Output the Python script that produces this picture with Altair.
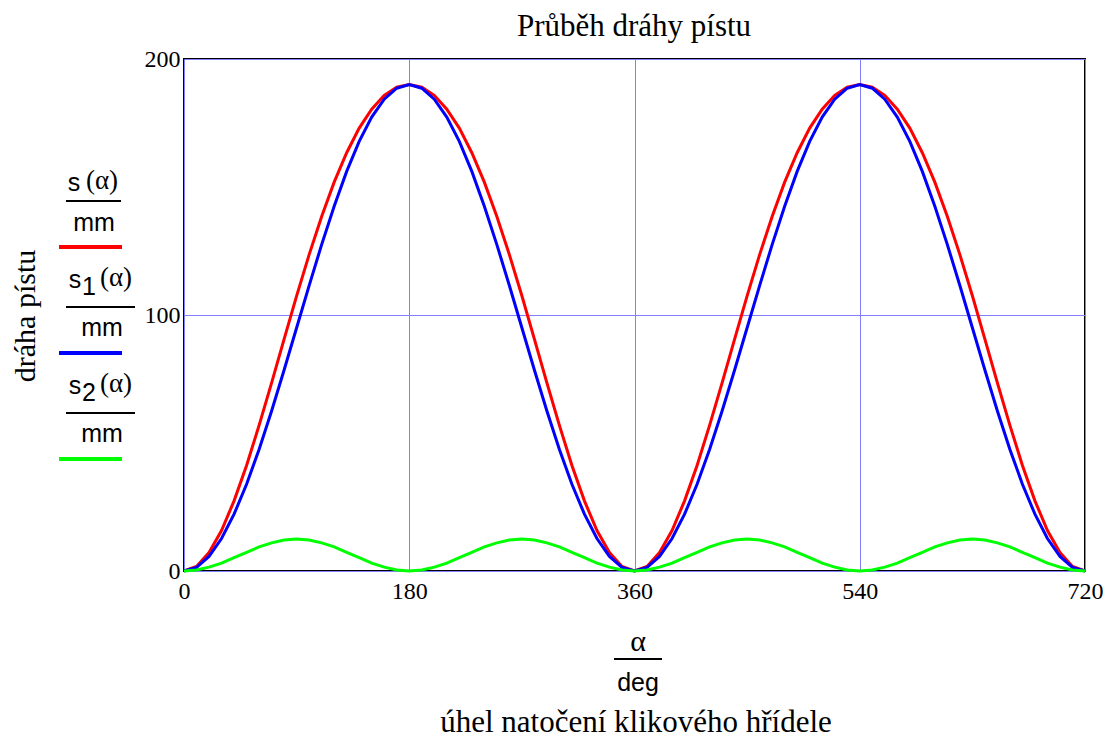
import altair as alt
import pandas as pd

# crank angle in degrees
alpha_deg = list(range(0, 721, 10))

# piston travel s(alpha)/mm
s_vals = [0, 1.8, 7.2, 15.8, 27.4, 41.2, 56.9, 73.5, 90.6, 107.5, 123.6, 138.5, 151.9, 163.4,
          173.0, 180.4, 185.8, 189.0, 190.0, 189.0, 185.8, 180.4, 173.0, 163.4, 151.9, 138.5,
          123.6, 107.5, 90.6, 73.5, 56.9, 41.2, 27.4, 15.8, 7.2, 1.8, 0,
          1.8, 7.2, 15.8, 27.4, 41.2, 56.9, 73.5, 90.6, 107.5, 123.6, 138.5, 151.9, 163.4,
          173.0, 180.4, 185.8, 189.0, 190.0, 189.0, 185.8, 180.4, 173.0, 163.4, 151.9, 138.5,
          123.6, 107.5, 90.6, 73.5, 56.9, 41.2, 27.4, 15.8, 7.2, 1.8, 0]

# first-order component s1(alpha)/mm
s1_vals = [0, 1.4, 5.7, 12.7, 22.2, 33.9, 47.5, 62.5, 78.5, 95.0, 111.5, 127.5, 142.5, 156.1,
           167.8, 177.3, 184.3, 188.6, 190.0, 188.6, 184.3, 177.3, 167.8, 156.1, 142.5, 127.5,
           111.5, 95.0, 78.5, 62.5, 47.5, 33.9, 22.2, 12.7, 5.7, 1.4, 0,
           1.4, 5.7, 12.7, 22.2, 33.9, 47.5, 62.5, 78.5, 95.0, 111.5, 127.5, 142.5, 156.1,
           167.8, 177.3, 184.3, 188.6, 190.0, 188.6, 184.3, 177.3, 167.8, 156.1, 142.5, 127.5,
           111.5, 95.0, 78.5, 62.5, 47.5, 33.9, 22.2, 12.7, 5.7, 1.4, 0]

# second-order component s2(alpha)/mm
s2_vals = [0, 0.4, 1.5, 3.1, 5.2, 7.3, 9.4, 11.0, 12.1, 12.5, 12.1, 11.0, 9.4, 7.3, 5.2, 3.1,
           1.5, 0.4, 0, 0.4, 1.5, 3.1, 5.2, 7.3, 9.4, 11.0, 12.1, 12.5, 12.1, 11.0, 9.4, 7.3,
           5.2, 3.1, 1.5, 0.4, 0,
           0.4, 1.5, 3.1, 5.2, 7.3, 9.4, 11.0, 12.1, 12.5, 12.1, 11.0, 9.4, 7.3, 5.2, 3.1,
           1.5, 0.4, 0, 0.4, 1.5, 3.1, 5.2, 7.3, 9.4, 11.0, 12.1, 12.5, 12.1, 11.0, 9.4, 7.3,
           5.2, 3.1, 1.5, 0.4, 0]

x_ticks = [0, 180, 360, 540, 720]
y_ticks = [0, 100, 200]
series_names = ["s", "s1", "s2"]
series_colors = ["#ff0000", "#0000ff", "#00ff00"]

rows = []
for name, vals in zip(series_names, [s_vals, s1_vals, s2_vals]):
    for a, v in zip(alpha_deg, vals):
        rows.append({"alpha": a, "value": v, "series": name})
df = pd.DataFrame(rows)

SERIF = "Liberation Serif"
SANS = "Liberation Sans"

lines = alt.Chart(df).mark_line(strokeWidth=3).encode(
    x=alt.X("alpha:Q",
            scale=alt.Scale(domain=[0, 720], nice=False, zero=False),
            axis=alt.Axis(values=x_ticks, grid=True, gridColor="#8080ff", gridWidth=1,
                          ticks=False, domain=False, labelFont=SERIF, labelFontSize=24,
                          labelColor="black", labelPadding=8, labelFlush=False, title=None)),
    y=alt.Y("value:Q",
            scale=alt.Scale(domain=[0, 200], nice=False),
            axis=alt.Axis(values=y_ticks, grid=True, gridColor="#8080ff", gridWidth=1,
                          ticks=False, domain=False, labelFont=SERIF, labelFontSize=24,
                          labelColor="black", labelPadding=4, labelFlush=False, title=None)),
    color=alt.Color("series:N",
                    scale=alt.Scale(domain=series_names, range=series_colors),
                    legend=None),
)

one = pd.DataFrame({"k": [0]})


def txt(text, x, y, size, font, align="center", baseline="middle", angle=0):
    kw = dict(text=text, font=font, fontSize=size, align=align, baseline=baseline,
              color="black")
    if angle:
        kw["angle"] = angle
    return alt.Chart(one).mark_text(**kw).encode(x=alt.value(x), y=alt.value(y))


def rule(x1, x2, y, color, width):
    return alt.Chart(one).mark_rule(color=color, strokeWidth=width).encode(
        x=alt.value(x1), x2=alt.value(x2), y=alt.value(y))


layers = [lines]
# title and axis titles
layers.append(txt("Průběh dráhy pístu", 450, -23, 31, SERIF, baseline="alphabetic"))
layers.append(txt("úhel natočení klikového hřídele", 452, 673, 31, SERIF, baseline="alphabetic"))
layers.append(txt("dráha pístu", -149, 257, 30, SERIF, baseline="alphabetic", angle=270))
# x fraction alpha / deg
layers.append(txt("α", 454, 583, 30, SERIF))
layers.append(rule(430, 478, 600, "black", 2))
layers.append(txt("deg", 454, 624, 25, SANS))
# legend
layers.append(txt("s", -110, 124, 25, SANS))
layers.append(txt("(α)", -82, 122, 27, SERIF))
layers.append(rule(-118, -63, 142, "black", 2))
layers.append(txt("mm", -90, 164, 25, SANS))
layers.append(rule(-125, -62, 188, "#ff0000", 4))

for dy, sub, col in [(0, "1", "#0000ff"), (106, "2", "#00ff00")]:
    layers.append(txt("s", -109, 221 + dy, 25, SANS))
    layers.append(txt(sub, -95, 228 + dy, 25, SANS))
    layers.append(txt("(α)", -68, 219 + dy, 27, SERIF))
    layers.append(rule(-118, -49, 248 + dy, "black", 2))
    layers.append(txt("mm", -82, 269 + dy, 25, SANS))
    layers.append(rule(-125, -62, 294 + dy, col, 4))

chart = alt.layer(*layers).properties(
    width=901, height=512,
    autosize=alt.AutoSizeParams(type="none"),
    padding={"left": 176, "top": 51, "right": 20, "bottom": 168},
).configure_view(stroke="black", strokeWidth=2).configure_axis(
    labelFont=SERIF, titleFont=SERIF
)

chart.save("out.html", embed_options={"renderer": "svg", "actions": False})
